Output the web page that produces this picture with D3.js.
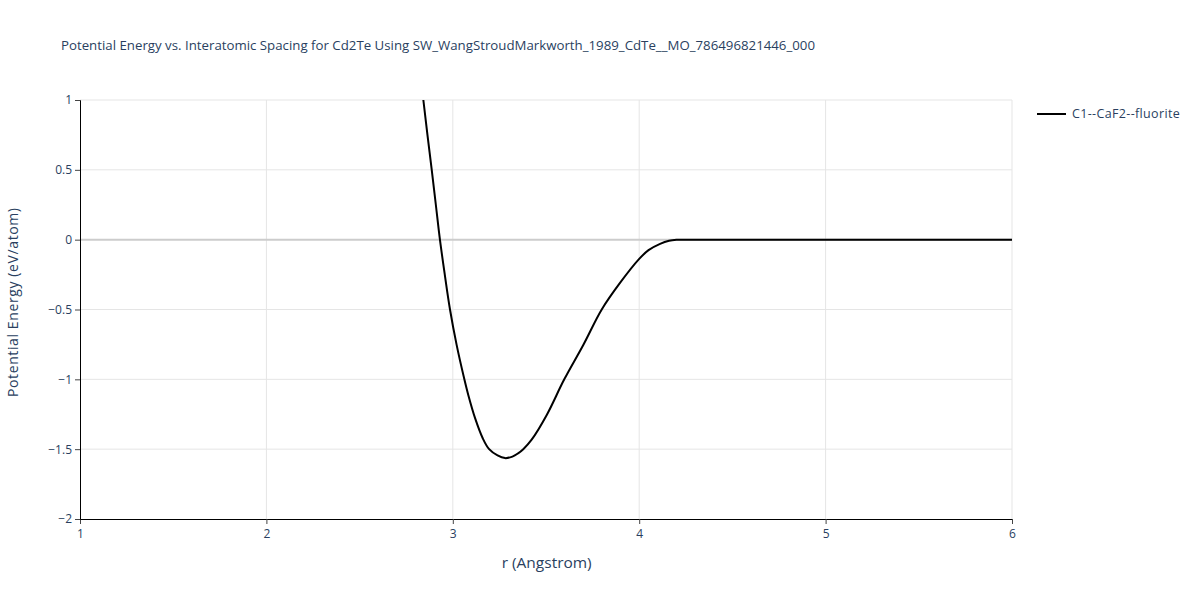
<!DOCTYPE html>
<html><head><meta charset="utf-8">
<script src="https://cdn.jsdelivr.net/npm/d3@7"></script>
<style>body{margin:0;background:#fff;} text{font-family:"Open Sans",sans-serif;}</style>
</head><body><svg id="c" width="1200" height="600"></svg>
<script>
const rVals = [2.80, 2.842, 2.864, 2.887, 2.909, 2.931, 2.957, 2.985, 3.02, 3.062, 3.083, 3.12, 3.16, 3.195, 3.24, 3.28, 3.32, 3.35, 3.378, 3.423, 3.504, 3.598, 3.70, 3.799, 3.897, 4.00, 4.05, 4.112, 4.16, 4.20, 4.24, 4.28, 4.5, 5.0, 5.5, 6.0];
const energy = [1.45, 1.0, 0.75, 0.5, 0.25, 0.0, -0.25, -0.5, -0.75, -1.0, -1.112, -1.28, -1.42, -1.5, -1.545, -1.564, -1.553, -1.53, -1.5, -1.432, -1.255, -1.0, -0.754, -0.5, -0.31, -0.138, -0.075, -0.03, -0.008, -0.001, 0, 0, 0, 0, 0, 0];
const seriesName = "C1--CaF2--fluorite";
const xTicks = [1,2,3,4,5,6];
const yTicks = [1,0.5,0,-0.5,-1,-1.5,-2];
const titleText = "Potential Energy vs. Interatomic Spacing for Cd2Te Using SW_WangStroudMarkworth_1989_CdTe__MO_786496821446_000";

const svg = d3.select("#c");
const L=80,R=1012,T=100,B=519;
const x = d3.scaleLinear().domain([1,6]).range([L,R]);
const y = d3.scaleLinear().domain([-2,1]).range([B,T]);
const col="#2a3f5f";

svg.append("text").attr("x",61).attr("y",50).attr("font-size",13).attr("fill",col)
 .attr("textLength",754).attr("lengthAdjust","spacingAndGlyphs").text(titleText);

// grid
const g = svg.append("g");
g.selectAll(".vg").data(xTicks.slice(1)).enter().append("line")
 .attr("x1",d=>x(d)).attr("x2",d=>x(d)).attr("y1",T).attr("y2",B).attr("stroke","#e5e5e5").attr("stroke-width",1);
g.selectAll(".hg").data(yTicks.filter(d=>d!==0 && d!==-2)).enter().append("line")
 .attr("x1",L).attr("x2",R).attr("y1",d=>y(d)).attr("y2",d=>y(d)).attr("stroke","#e5e5e5").attr("stroke-width",1);
g.append("line").attr("x1",L).attr("x2",R).attr("y1",y(0)).attr("y2",y(0)).attr("stroke","#cccccc").attr("stroke-width",2);

// clip
svg.append("clipPath").attr("id","clip").append("rect").attr("x",L).attr("y",T).attr("width",R-L).attr("height",B-T);
const line = d3.line().x((d,i)=>x(rVals[i])).y(d=>y(d)).curve(d3.curveCatmullRom.alpha(0.5));
svg.append("path").attr("clip-path","url(#clip)").attr("d",line(energy)).attr("fill","none").attr("stroke","#000").attr("stroke-width",2);

// axes
const xa = svg.append("g").attr("transform",`translate(0,${B})`);
xa.call(d3.axisBottom(x).tickValues(d3.range(1,6.001,0.2)).tickSize(5).tickFormat(""));
xa.call(d3.axisBottom(x).tickValues(xTicks).tickSize(5).tickFormat(d3.format("d")));
xa.selectAll("line").attr("stroke","#444");
xa.selectAll("text").attr("font-size",12).attr("fill",col).attr("dy","0.9em").attr("font-family","Open Sans");

const ya = svg.append("g").attr("transform",`translate(${L},0)`);
ya.call(d3.axisLeft(y).tickValues(d3.range(-20,11).map(d=>d/10)).tickSize(5).tickFormat(""));
ya.call(d3.axisLeft(y).tickValues(yTicks).tickSize(5).tickFormat(d=>d<0?"\u2212"+Math.abs(d):String(d)));
ya.selectAll("line").attr("stroke","#444");
ya.selectAll("text").attr("font-size",12).attr("fill",col).attr("font-family","Open Sans");
svg.selectAll(".domain").attr("stroke","#000");

svg.append("text").attr("x",546.7).attr("y",568).attr("text-anchor","middle").attr("font-size",14).attr("fill",col)
 .attr("textLength",90).attr("lengthAdjust","spacingAndGlyphs").text("r (Angstrom)");
svg.append("text").attr("transform",`translate(18,302.5) rotate(-90)`).attr("text-anchor","middle").attr("font-size",14).attr("fill",col)
 .attr("textLength",189).attr("lengthAdjust","spacing").text("Potential Energy (eV/atom)");

// legend
svg.append("line").attr("x1",1037).attr("x2",1066).attr("y1",114).attr("y2",114).attr("stroke","#000").attr("stroke-width",2);
svg.append("text").attr("x",1072).attr("y",118).attr("font-size",12.5).attr("fill",col)
 .attr("letter-spacing","0.35px").text(seriesName);
</script></body></html>
